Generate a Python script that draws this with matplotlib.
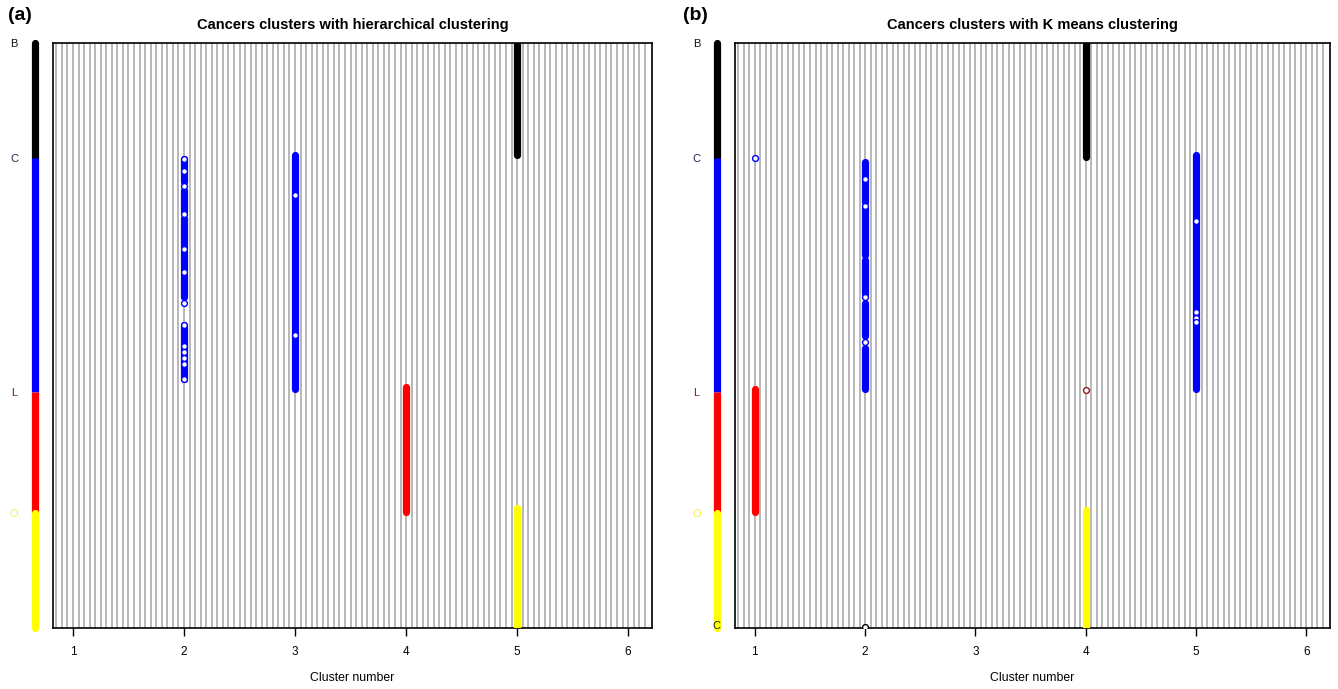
import matplotlib
matplotlib.use("Agg")
import matplotlib.pyplot as plt
import numpy as np

plt.rcParams['font.family'] = ['Liberation Sans', 'DejaVu Sans']

# cancer types, rows are samples sorted by type (top to bottom)
types = ['B', 'C', 'L', 'O']
type_colors = ['black', 'blue', 'red', '#ffff00']
label_colors = ['#111111', '#22225a', '#7a1f1f', '#f2f240']
type_start = [0.5, 59.5, 179.5, 241.5]
type_end = [59.5, 179.5, 241.5, 300.5]
n_rows = 300

# panel (a): hierarchical clustering -> (cluster, first row, last row, colour)
hc_runs = [
    (5, 1, 58, 'black'),
    (2, 60, 72, 'blue'), (2, 76, 87, 'blue'), (2, 90, 105, 'blue'),
    (2, 107, 117, 'blue'), (2, 119, 131, 'blue'), (2, 145, 173, 'blue'),
    (3, 58, 178, 'blue'),
    (4, 177, 241, 'red'),
    (5, 239, 300, 'yellow'),
]
hc_open = [
    (2, 60, 'blue'), (2, 66, 'blue'), (2, 74, 'blue'), (2, 88, 'blue'),
    (2, 106, 'blue'), (2, 118, 'blue'), (2, 134, 'blue'), (2, 145, 'blue'),
    (2, 156, 'blue'), (2, 159, 'blue'), (2, 162, 'blue'), (2, 165, 'blue'),
    (2, 173, 'blue'),
    (3, 78.5, 'blue'), (3, 150, 'blue'),
]

# panel (b): k means clustering
km_runs = [
    (1, 178, 241, 'red'),
    (2, 61.5, 82, 'blue'), (2, 85, 109, 'blue'), (2, 112, 129, 'blue'),
    (2, 134, 151, 'blue'), (2, 157, 178, 'blue'),
    (4, 1, 59, 'black'),
    (4, 240, 300, 'yellow'),
    (5, 58, 178, 'blue'),
]
km_open = [
    (1, 59.5, 'blue'),
    (2, 70, 'blue'), (2, 84, 'blue'), (2, 131, 'blue'), (2, 154, 'blue'),
    (2, 300, 'black'),
    (4, 178.5, '#8b1a1a'),
    (5, 92, 'blue'), (5, 138.5, 'blue'), (5, 141.5, 'blue'), (5, 143.5, 'blue'),
]

titles = ['Cancers clusters with hierarchical clustering',
          'Cancers clusters with K means clustering']
panel_tags = ['(a)', '(b)']
cluster_ticks = [1, 2, 3, 4, 5, 6]


def draw_panel(ax, runs, opens, title, tag, extra_c=False):
    xlo, xhi = 0.82, 6.215
    # background stripes
    for xv in np.arange(0.85, 6.2, 0.05):
        ax.axvline(xv, color='#acacac', lw=1.2, zorder=1)
    for cl, r0, r1, col in runs:
        ax.plot([cl, cl], [r0, r1], color=col, lw=5.2,
                solid_capstyle='round', zorder=3)
    for cl, r, col in opens:
        ax.plot(cl, r, 'o', ms=4.2, mfc='white', mec=col, mew=1.0, zorder=4)
    # type bar on the left, outside the plot region
    bar_x = 0.655
    for i in range(len(types)):
        cap = 'round' if i in (0, len(types) - 1) else 'butt'
        ax.plot([bar_x, bar_x], [type_start[i], type_end[i]],
                color=type_colors[i], lw=5.2, solid_capstyle=cap,
                clip_on=False, zorder=3)
        ax.text(0.47, type_start[i] + 0.5, types[i], color=label_colors[i],
                fontsize=8, ha='center', va='center', clip_on=False)
    if extra_c:
        ax.text(bar_x, 299.5, 'C', color='#222222', fontsize=8,
                ha='center', va='center', clip_on=False, zorder=5)
    ax.set_xlim(xlo, xhi)
    ax.set_ylim(n_rows + 0.5, 0.5)
    ax.set_yticks([])
    ax.set_xticks(cluster_ticks)
    ax.tick_params(axis='x', direction='out', length=6, width=1,
                   labelsize=8.5, pad=7)
    for s in ax.spines.values():
        s.set_linewidth(1.2)
    ax.set_xlabel('Cluster number', fontsize=8.8, labelpad=10)
    ax.set_title(title, fontsize=10.5, fontweight='bold', pad=10)


fig = plt.figure(figsize=(13.38, 6.89), dpi=100)
ax1 = fig.add_axes([53 / 1338, 61 / 689, 599 / 1338, 585 / 689])
ax2 = fig.add_axes([735 / 1338, 61 / 689, 595 / 1338, 585 / 689])

draw_panel(ax1, hc_runs, hc_open, titles[0], panel_tags[0])
draw_panel(ax2, km_runs, km_open, titles[1], panel_tags[1], extra_c=True)

fig.text(8 / 1338, 1 - 16 / 689, panel_tags[0], fontsize=14,
         fontweight='bold', va='center', ha='left')
fig.text(683 / 1338, 1 - 16 / 689, panel_tags[1], fontsize=14,
         fontweight='bold', va='center', ha='left')

fig.savefig('out.png', dpi=100)
